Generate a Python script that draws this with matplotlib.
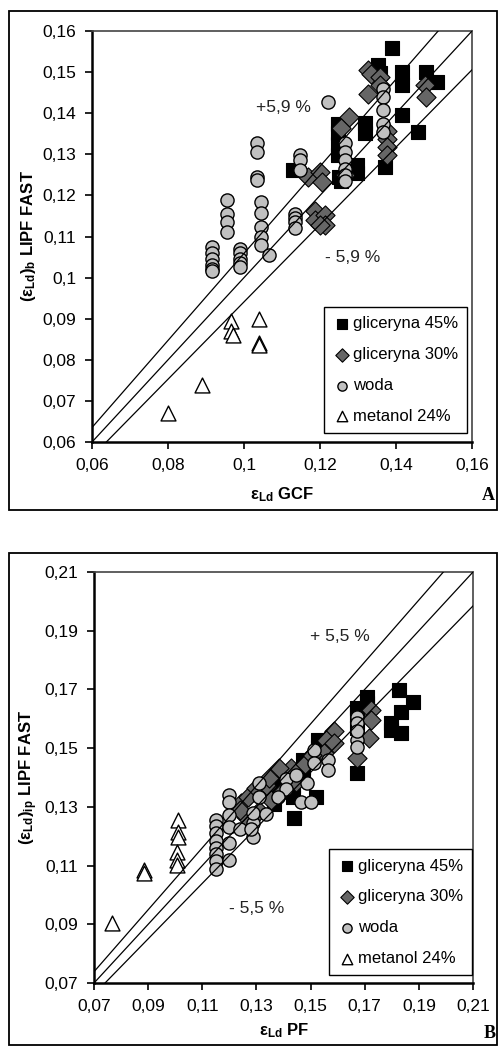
import numpy as np
import matplotlib
matplotlib.use("Agg")
import matplotlib.pyplot as plt
from matplotlib.patches import Rectangle

plt.rcParams["font.family"] = ["Liberation Sans", "DejaVu Sans"]
plt.rcParams["mathtext.fontset"] = "custom"
plt.rcParams["mathtext.rm"] = "Liberation Sans"
plt.rcParams["mathtext.bf"] = "Liberation Sans:bold"
plt.rcParams["mathtext.it"] = "Liberation Sans:italic"

# ---- panel A: LIPF FAST vs GCF ----
a_g45_x = [0.1389, 0.1353, 0.1357, 0.1415, 0.1415, 0.148, 0.1508, 0.1415, 0.1459, 0.1371,
           0.1318, 0.1318, 0.1248, 0.1248, 0.1248, 0.1248, 0.125, 0.1297, 0.1297, 0.113, 0.1255]
a_g45_y = [0.1558, 0.1517, 0.1497, 0.1500, 0.1469, 0.150, 0.1477, 0.1396, 0.1355, 0.127,
           0.1376, 0.1351, 0.1375, 0.1351, 0.1325, 0.1298, 0.1246, 0.1274, 0.1255, 0.1262, 0.1235]
a_g30_x = [0.1327, 0.1333, 0.1358, 0.1358, 0.1327, 0.1476, 0.1479, 0.1275, 0.1255, 0.1375,
           0.1375, 0.1375, 0.1375, 0.1169, 0.12, 0.1205, 0.1187, 0.1187, 0.1212, 0.1212, 0.12, 0.1265]
a_g30_y = [0.1505, 0.1495, 0.1489, 0.1468, 0.1447, 0.1469, 0.144, 0.1392, 0.1365, 0.1357,
           0.1337, 0.1319, 0.1299, 0.1246, 0.1257, 0.1232, 0.1162, 0.114, 0.1152, 0.1128, 0.1128, 0.125]
a_woda_x = [0.0915, 0.0915, 0.0915, 0.0915, 0.0915, 0.0915,
            0.0955, 0.0955, 0.0955, 0.0955,
            0.099, 0.099, 0.099, 0.099, 0.099,
            0.1033, 0.1033, 0.1033, 0.1033,
            0.1045, 0.1045, 0.1045, 0.1045, 0.1045,
            0.1065,
            0.1135, 0.1135, 0.1135, 0.1135,
            0.1147, 0.1147, 0.1147,
            0.122,
            0.1266, 0.1266, 0.1266, 0.1266, 0.1266, 0.1266,
            0.1367, 0.1367, 0.1367, 0.1367, 0.1367]
a_woda_y = [0.1075, 0.106, 0.1045, 0.103, 0.102, 0.1015,
            0.119, 0.1155, 0.1135, 0.111,
            0.107, 0.106, 0.1045, 0.1035, 0.1025,
            0.1327, 0.1306, 0.1245, 0.1238,
            0.1185, 0.1157, 0.1124, 0.110, 0.108,
            0.1055,
            0.1156, 0.1145, 0.1136, 0.112,
            0.1298, 0.1286, 0.1262,
            0.1428,
            0.1327, 0.1305, 0.1286, 0.1265, 0.125, 0.1235,
            0.146, 0.144, 0.1408, 0.1375, 0.1355]
a_met_x = [0.080, 0.089, 0.0965, 0.0965, 0.097, 0.104, 0.104, 0.104]
a_met_y = [0.067, 0.074, 0.0895, 0.087, 0.086, 0.090, 0.084, 0.0835]
a_ticks = [0.06, 0.07, 0.08, 0.09, 0.10, 0.11, 0.12, 0.13, 0.14, 0.15, 0.16]
a_xticks = [0.06, 0.08, 0.10, 0.12, 0.14, 0.16]
a_dev = 0.059

# ---- panel B: LIPF FAST vs PF ----
b_g45_x = [0.1827, 0.188, 0.1833, 0.1796, 0.1796, 0.1833, 0.171, 0.171, 0.1673, 0.1673, 0.1673,
           0.1673, 0.1526, 0.1526, 0.1471, 0.1471, 0.1471, 0.1434, 0.1434, 0.152, 0.144,
           0.1395, 0.1365, 0.1365, 0.1295, 0.133]
b_g45_y = [0.1698, 0.1658, 0.1624, 0.1585, 0.1562, 0.155, 0.1675, 0.1653, 0.1636, 0.1614, 0.157,
           0.1414, 0.1528, 0.1505, 0.146, 0.1435, 0.1405, 0.1335, 0.137, 0.1335, 0.1261,
           0.1385, 0.134, 0.131, 0.1345, 0.137]
b_g30_x = [0.1723, 0.1723, 0.1717, 0.1673, 0.1588, 0.1557, 0.1588, 0.1428, 0.1385, 0.1244,
           0.1262, 0.127, 0.130, 0.134, 0.1355, 0.131, 0.1275, 0.124, 0.1345, 0.148, 0.155,
           0.1505, 0.1445, 0.1395]
b_g30_y = [0.163, 0.1596, 0.1534, 0.1466, 0.1558, 0.1528, 0.1517, 0.1431, 0.1431, 0.1312,
           0.1267, 0.1335, 0.1365, 0.137, 0.1325, 0.1285, 0.1245, 0.129, 0.140, 0.1445, 0.1485,
           0.1475, 0.1385, 0.135]
b_woda_x = [0.1152, 0.1152, 0.1152, 0.1152, 0.1152, 0.1152, 0.1152, 0.1152,
            0.12, 0.12, 0.12, 0.12, 0.12, 0.12,
            0.1287, 0.1287, 0.1287,
            0.1311, 0.1311,
            0.1465, 0.1502, 0.1514, 0.1563, 0.1514, 0.1563,
            0.1673, 0.1673, 0.1673, 0.1673, 0.1673,
            0.141, 0.141, 0.138, 0.1445, 0.1485, 0.124, 0.128, 0.1335]
b_woda_y = [0.1255, 0.1235, 0.121, 0.1185, 0.116, 0.114, 0.1115, 0.109,
            0.134, 0.1315, 0.1272, 0.1233, 0.1176, 0.1119,
            0.1198, 0.1244, 0.128,
            0.138, 0.1335,
            0.1318, 0.1318, 0.1494, 0.146, 0.1449, 0.1426,
            0.1607, 0.1585, 0.1528, 0.1505, 0.156,
            0.1395, 0.136, 0.1335, 0.141, 0.138, 0.1225, 0.1225, 0.1275]
b_met_x = [0.0767, 0.0884, 0.0884, 0.101, 0.101, 0.101, 0.1005, 0.1005, 0.1005]
b_met_y = [0.0903, 0.1085, 0.1074, 0.1255, 0.1216, 0.1198, 0.1147, 0.1119, 0.1102]
b_ticks = [0.07, 0.09, 0.11, 0.13, 0.15, 0.17, 0.19, 0.21]
b_dev = 0.055

labels = ["gliceryna 45%", "gliceryna 30%", "woda", "metanol 24%"]


def fmt(v):
    return f"{v:.2f}".rstrip("0").replace(".", ",")


def panel(ax, series, lim, yticks, xticks, dev, xlabel, ylabel, dev_pos, leg_anchor, xlab_y):
    (g45x, g45y), (g30x, g30y), (wx, wy), (mx, my) = series
    ax.scatter(g45x, g45y, marker="s", s=115, c="black", edgecolors="black", lw=0.8, zorder=2, label=labels[0])
    ax.scatter(g30x, g30y, marker="D", s=95, c="#666666", edgecolors="black", lw=0.8, zorder=3, label=labels[1])
    ax.scatter(wx, wy, marker="o", s=90, c="#c0c0c0", edgecolors="black", lw=1.0, zorder=4, label=labels[2])
    ax.scatter(mx, my, marker="^", s=115, c="white", edgecolors="black", lw=1.0, zorder=5, label=labels[3])

    xs = np.array(lim)
    for k in (1 + dev, 1.0, 1 - dev):
        ax.plot(xs, k * xs, color="black", lw=0.9, zorder=6)

    ax.set_xlim(lim)
    ax.set_ylim(lim)
    ax.set_xticks(xticks)
    ax.set_xticklabels([fmt(v) for v in xticks])
    ax.set_yticks(yticks)
    ax.set_yticklabels([fmt(v) for v in yticks])
    ax.tick_params(direction="out", length=5, width=1.2, labelsize=12.5, pad=6.5)

    for s in ("left", "bottom"):
        ax.spines[s].set_linewidth(1.8)
        ax.spines[s].set_color("black")
    for s in ("top", "right"):
        ax.spines[s].set_linewidth(1.2)
        ax.spines[s].set_color("#444444")

    ax.set_xlabel(xlabel, fontsize=12, fontweight="bold")
    ax.set_ylabel(ylabel, fontsize=12, fontweight="bold")
    ax.xaxis.set_label_coords(0.5, xlab_y)
    ax.yaxis.set_label_coords(-0.142, 0.5)

    (p1x, p1y, t1), (p2x, p2y, t2) = dev_pos
    ax.text(p1x, p1y, t1, fontsize=12.5, ha="center", va="center", color="#222222", zorder=7)
    ax.text(p2x, p2y, t2, fontsize=12.5, ha="center", va="center", color="#222222", zorder=7)

    leg = ax.legend(loc="lower right", bbox_to_anchor=leg_anchor, frameon=True, fancybox=False,
                    edgecolor="black", framealpha=1, fontsize=12, markerscale=0.7,
                    handletextpad=0.15, labelspacing=0.95, borderpad=0.55, handlelength=1.0,
                    borderaxespad=0)
    leg.get_frame().set_linewidth(1.0)
    leg.set_zorder(10)


fig = plt.figure(figsize=(5.0, 10.48), dpi=100)

axA = fig.add_axes([0.184, 0.5782, 0.76, 0.3922])
panel(axA,
      [(a_g45_x, a_g45_y), (a_g30_x, a_g30_y), (a_woda_x, a_woda_y), (a_met_x, a_met_y)],
      (0.06, 0.16), a_ticks, a_xticks, a_dev,
      r"$\mathbf{ε}_{\mathbf{Ld}}$ GCF",
      r"$\mathbf{(ε}_{\mathbf{Ld}}\mathbf{)}_{\mathbf{b}}$ LIPF FAST",
      [(0.1105, 0.1413, "+5,9 %"), (0.1287, 0.1048, "- 5,9 %")],
      (0.987, 0.022), -0.105)

axB = fig.add_axes([0.188, 0.062, 0.758, 0.3922])
panel(axB,
      [(b_g45_x, b_g45_y), (b_g30_x, b_g30_y), (b_woda_x, b_woda_y), (b_met_x, b_met_y)],
      (0.07, 0.21), b_ticks, b_ticks, b_dev,
      r"$\mathbf{ε}_{\mathbf{Ld}}$ PF",
      r"$\mathbf{(ε}_{\mathbf{Ld}}\mathbf{)}_{\mathbf{ip}}$ LIPF FAST",
      [(0.161, 0.1879, "+ 5,5 %"), (0.130, 0.0955, "- 5,5 %")],
      (0.997, 0.019), -0.092)

# outer frames round each panel
fig.patches.append(Rectangle((0.018, 0.5134), 0.976, 0.4761, transform=fig.transFigure,
                             fill=False, edgecolor="black", lw=1.3))
fig.patches.append(Rectangle((0.018, 0.0029), 0.976, 0.4694, transform=fig.transFigure,
                             fill=False, edgecolor="black", lw=1.3))

fig.text(488 / 500, 1 - 495 / 1048, "A", family="Liberation Serif", fontweight="bold",
         fontsize=13, ha="center", va="center")
fig.text(490 / 500, 1 - 1033 / 1048, "B", family="Liberation Serif", fontweight="bold",
         fontsize=13, ha="center", va="center")

fig.savefig("out.png", dpi=100)
